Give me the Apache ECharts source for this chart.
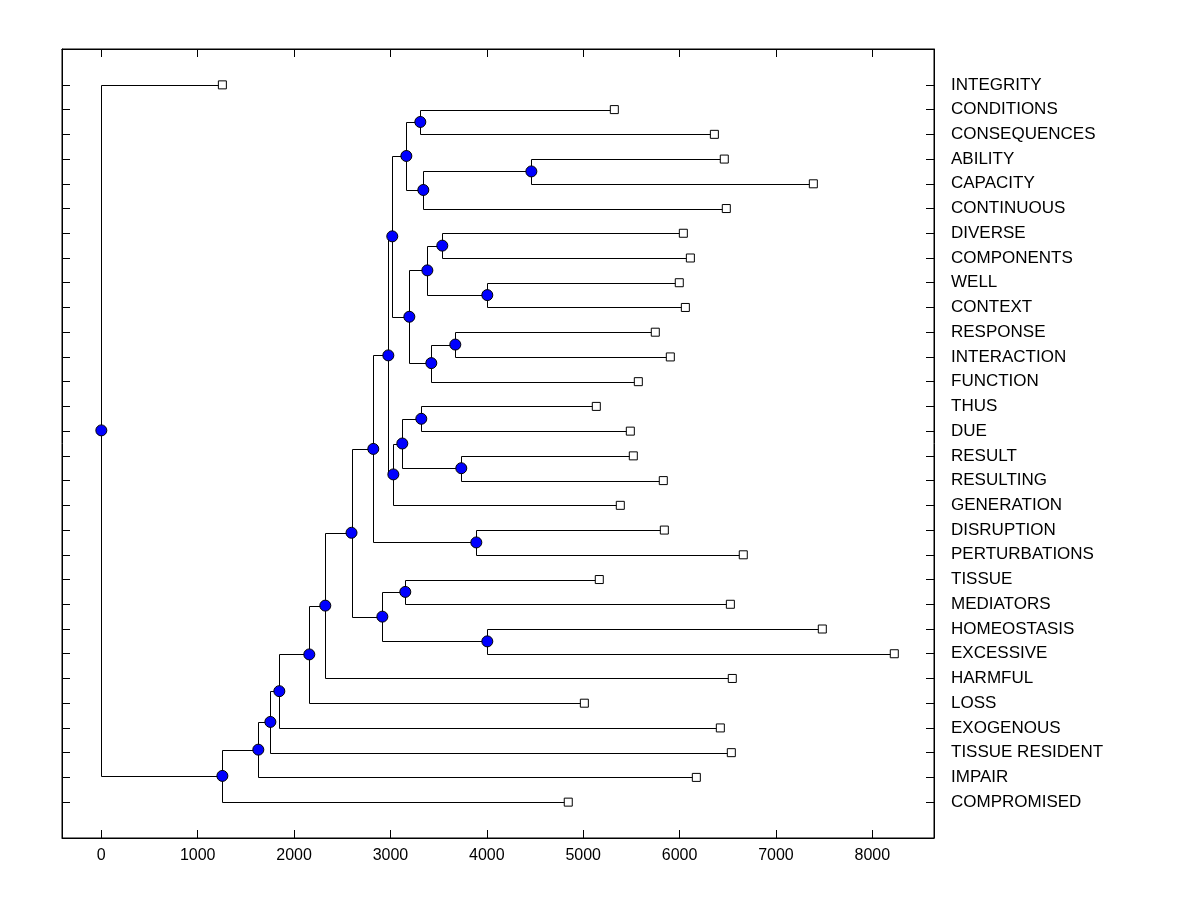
<!DOCTYPE html>
<html>
<head>
<meta charset="utf-8">
<title>Dendrogram</title>
<script src="https://cdn.jsdelivr.net/npm/echarts@6/dist/echarts.min.js"></script>
<style>
  html, body { margin: 0; padding: 0; background: #fff; }
  #main { width: 1200px; height: 900px; }
</style>
</head>
<body>
<div id="main"></div>
<script>
// leaves, top to bottom
var labels = ['INTEGRITY', 'CONDITIONS', 'CONSEQUENCES', 'ABILITY', 'CAPACITY', 'CONTINUOUS',
    'DIVERSE', 'COMPONENTS', 'WELL', 'CONTEXT', 'RESPONSE', 'INTERACTION', 'FUNCTION',
    'THUS', 'DUE', 'RESULT', 'RESULTING', 'GENERATION', 'DISRUPTION', 'PERTURBATIONS',
    'TISSUE', 'MEDIATORS', 'HOMEOSTASIS', 'EXCESSIVE', 'HARMFUL', 'LOSS', 'EXOGENOUS',
    'TISSUE RESIDENT', 'IMPAIR', 'COMPROMISED'];

// where each leaf ends on the x axis
var leafValues = [1256, 5323, 6361, 6464, 7388, 6485,
    6039, 6112, 5997, 6060, 5748, 5904, 5572,
    5136, 5489, 5520, 5831, 5385, 5842, 6661,
    5167, 6527, 7481, 8228, 6547, 5012, 6423,
    6537, 6174, 4845];

// merges: [child a, child b, height]; 'mN' = result of merge N
var merges = [
    ['CONDITIONS', 'CONSEQUENCES', 3310],   // m0
    ['ABILITY', 'CAPACITY', 4462],          // m1
    ['m1', 'CONTINUOUS', 3341],             // m2
    ['m0', 'm2', 3165],                     // m3
    ['DIVERSE', 'COMPONENTS', 3538],        // m4
    ['WELL', 'CONTEXT', 4005],              // m5
    ['m4', 'm5', 3383],                     // m6
    ['RESPONSE', 'INTERACTION', 3673],      // m7
    ['m7', 'FUNCTION', 3424],               // m8
    ['m6', 'm8', 3196],                     // m9
    ['m3', 'm9', 3019],                     // m10
    ['THUS', 'DUE', 3320],                  // m11
    ['RESULT', 'RESULTING', 3735],          // m12
    ['m11', 'm12', 3123],                   // m13
    ['m13', 'GENERATION', 3030],            // m14
    ['m10', 'm14', 2978],                   // m15
    ['DISRUPTION', 'PERTURBATIONS', 3891],  // m16
    ['m15', 'm16', 2822],                   // m17
    ['TISSUE', 'MEDIATORS', 3154],          // m18
    ['HOMEOSTASIS', 'EXCESSIVE', 4005],     // m19
    ['m18', 'm19', 2916],                   // m20
    ['m17', 'm20', 2596],                   // m21
    ['m21', 'HARMFUL', 2324],               // m22
    ['m22', 'LOSS', 2158],                  // m23
    ['m23', 'EXOGENOUS', 1847],             // m24
    ['m24', 'TISSUE RESIDENT', 1754],       // m25
    ['m25', 'IMPAIR', 1629],                // m26
    ['m26', 'COMPROMISED', 1256],           // m27
    ['INTEGRITY', 'm27', 0]                 // m28 (root)
];

var xTicks = [0, 1000, 2000, 3000, 4000, 5000, 6000, 7000, 8000];

var myChart = echarts.init(document.getElementById('main'));

// positions: [x value, row]
var pos = {};
var rowTicks = [];
labels.forEach(function (name, i) {
    pos[name] = [leafValues[i], i + 1];
    rowTicks.push(i + 1);
});
var leafData = labels.map(function (name) { return pos[name]; });

var linkData = [];
var nodeData = [];
merges.forEach(function (m, k) {
    var a = pos[m[0]], b = pos[m[1]], h = m[2];
    var y = (a[1] + b[1]) / 2;
    pos['m' + k] = [h, y];
    linkData.push([h, a[0], a[1], b[0], b[1]]);
    nodeData.push([h, y]);
});

function crisp(p) {
    return [Math.round(p[0]) + 0.5, Math.round(p[1]) + 0.5];
}

var font = 'Liberation Sans, Arial, sans-serif';
var yMin = -0.45, yMax = 31.45;
var axisLine = { show: true, onZero: false, lineStyle: { color: '#000' } };

option = {
    backgroundColor: '#fff',
    animation: false,
    grid: {
        left: 62, top: 49, width: 872, height: 789,
        show: true, borderColor: '#000', borderWidth: 1
    },
    xAxis: [{
        type: 'value', position: 'bottom', min: -408, max: 8640,
        axisLine: axisLine,
        axisTick: { inside: true, length: 8, customValues: xTicks, lineStyle: { color: '#000' } },
        axisLabel: {
            customValues: xTicks, color: '#000', fontSize: 16, fontFamily: font, margin: 10,
            formatter: function (v) { return String(v); }
        },
        splitLine: { show: false }
    }, {
        type: 'value', position: 'top', min: -408, max: 8640,
        axisLine: axisLine,
        axisTick: { inside: true, length: 8, customValues: xTicks, lineStyle: { color: '#000' } },
        axisLabel: { show: false },
        splitLine: { show: false }
    }],
    yAxis: [{
        type: 'value', position: 'left', inverse: true, min: yMin, max: yMax,
        axisLine: axisLine,
        axisTick: { inside: true, length: 8, customValues: rowTicks, lineStyle: { color: '#000' } },
        axisLabel: { show: false },
        splitLine: { show: false }
    }, {
        type: 'value', position: 'right', inverse: true, min: yMin, max: yMax,
        axisLine: axisLine,
        axisTick: { inside: true, length: 8, customValues: rowTicks, lineStyle: { color: '#000' } },
        axisLabel: {
            customValues: rowTicks, color: '#000', fontSize: 17, fontFamily: font, margin: 17,
            formatter: function (v) { return labels[Math.round(v) - 1] || ''; }
        },
        splitLine: { show: false }
    }],
    series: [{
        type: 'custom',
        silent: true,
        z: 1,
        encode: { x: [0, 1, 3], y: [2, 4] },
        data: linkData,
        renderItem: function (params, api) {
            var h = api.value(0);
            var xa = api.value(1), ya = api.value(2);
            var xb = api.value(3), yb = api.value(4);
            var pts = [
                crisp(api.coord([xa, ya])),
                crisp(api.coord([h, ya])),
                crisp(api.coord([h, yb])),
                crisp(api.coord([xb, yb]))
            ];
            return {
                type: 'polyline',
                shape: { points: pts },
                style: { stroke: '#000', lineWidth: 1, fill: null }
            };
        }
    }, {
        // leaves
        type: 'scatter',
        silent: true,
        z: 3,
        symbol: 'rect',
        symbolSize: 8,
        itemStyle: { color: '#fff', borderColor: '#000', borderWidth: 1, opacity: 1 },
        data: leafData
    }, {
        // merge points
        type: 'scatter',
        silent: true,
        z: 4,
        symbol: 'circle',
        symbolSize: 11,
        itemStyle: { color: '#0000ff', borderColor: '#000', borderWidth: 1, opacity: 1 },
        data: nodeData
    }]
};

myChart.setOption(option);
</script>
</body>
</html>
